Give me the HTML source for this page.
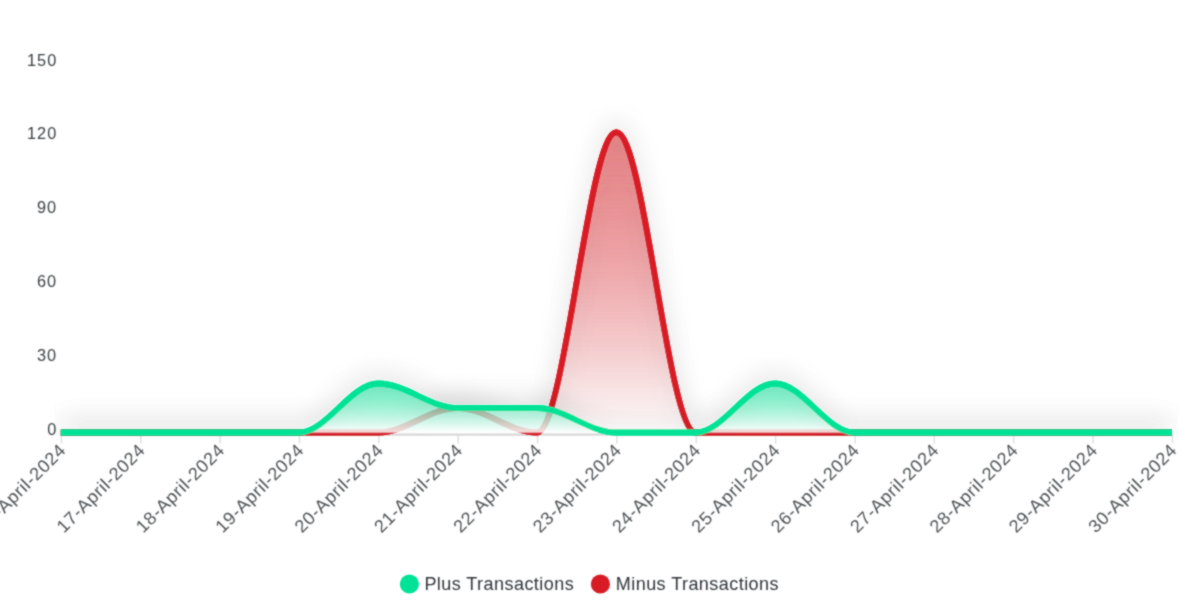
<!DOCTYPE html>
<html><head><meta charset="utf-8"><style>
html,body{margin:0;padding:0;background:#fff;}
body{width:1180px;height:600px;overflow:hidden;}
svg{display:block;}
.lab{font-family:"Liberation Sans",Arial,Helvetica,sans-serif;fill:#3a3f42;}
</style></head><body>
<svg width="1180" height="600" viewBox="0 0 1180 600">
<defs>
<linearGradient id="gG" x1="0" y1="0" x2="0" y2="1">
<stop offset="0" stop-color="#00E396" stop-opacity="0.31"/>
<stop offset="1.0" stop-color="#ffffff" stop-opacity="0.6"/>
<stop offset="1" stop-color="#ffffff" stop-opacity="0.6"/>
</linearGradient>
<linearGradient id="gR" x1="0" y1="0" x2="0" y2="1">
<stop offset="0" stop-color="#D81F26" stop-opacity="0.31"/>
<stop offset="1.0" stop-color="#ffffff" stop-opacity="0.6"/>
<stop offset="1" stop-color="#ffffff" stop-opacity="0.6"/>
</linearGradient>
<filter id="sh" filterUnits="userSpaceOnUse" x="0" y="0" width="1180" height="600">
<feFlood flood-color="#000" flood-opacity="0.14"/>
<feComposite in2="SourceAlpha" operator="in"/>
<feOffset dx="0" dy="-7"/>
<feGaussianBlur stdDeviation="12"/>
<feMerge result="m"><feMergeNode/><feMergeNode in="SourceGraphic"/></feMerge>
<feBlend in="SourceGraphic" in2="m" mode="normal"/>
</filter>
<filter id="sb" filterUnits="userSpaceOnUse" x="0" y="0" width="1180" height="600"><feConvolveMatrix order="3" kernelMatrix="1 2 1 2 12 2 1 2 1" preserveAlpha="false"/></filter>
<filter id="dd" filterUnits="userSpaceOnUse" x="0" y="0" width="1180" height="600"><feMerge><feMergeNode in="SourceGraphic"/><feMergeNode in="SourceGraphic"/></feMerge></filter>
<filter id="tb" x="-5%" y="-20%" width="110%" height="140%"><feConvolveMatrix order="3" kernelMatrix="1 2 1 2 8 2 1 2 1" preserveAlpha="false"/></filter>
<clipPath id="clip"><rect x="54.3" y="40" width="1123.7" height="396.0"/></clipPath>
</defs>
<g class="lab" font-size="16.3" letter-spacing="1.0" filter="url(#tb)">
<text x="57.2" y="65.89" text-anchor="end">150</text>
<text x="57.2" y="138.64" text-anchor="end">120</text>
<text x="57.2" y="212.79" text-anchor="end">90</text>
<text x="57.2" y="287.24" text-anchor="end">60</text>
<text x="57.2" y="361.44" text-anchor="end">30</text>
<text x="57.2" y="435.44" text-anchor="end">0</text>
</g>
<g filter="url(#sb)"><line x1="60.80" y1="434.4" x2="1171.84" y2="434.4" stroke="#e8e8e8" stroke-width="3.0"/>
<g stroke="#e0e0e0" stroke-width="1.5">
<line x1="61.40" y1="434" x2="61.40" y2="443.5"/>
<line x1="140.76" y1="434" x2="140.76" y2="443.5"/>
<line x1="220.12" y1="434" x2="220.12" y2="443.5"/>
<line x1="299.48" y1="434" x2="299.48" y2="443.5"/>
<line x1="378.84" y1="434" x2="378.84" y2="443.5"/>
<line x1="458.20" y1="434" x2="458.20" y2="443.5"/>
<line x1="537.56" y1="434" x2="537.56" y2="443.5"/>
<line x1="616.92" y1="434" x2="616.92" y2="443.5"/>
<line x1="696.28" y1="434" x2="696.28" y2="443.5"/>
<line x1="775.64" y1="434" x2="775.64" y2="443.5"/>
<line x1="855.00" y1="434" x2="855.00" y2="443.5"/>
<line x1="934.36" y1="434" x2="934.36" y2="443.5"/>
<line x1="1013.72" y1="434" x2="1013.72" y2="443.5"/>
<line x1="1093.08" y1="434" x2="1093.08" y2="443.5"/>
<line x1="1172.44" y1="434" x2="1172.44" y2="443.5"/>
</g></g>
<g class="lab" filter="url(#tb)" style="fill:#4d5255" font-size="18" letter-spacing="0.65">
<text x="67.00" y="451.30" text-anchor="end" transform="rotate(-45 67.00 451.30)">16-April-2024</text>
<text x="146.36" y="451.30" text-anchor="end" transform="rotate(-45 146.36 451.30)">17-April-2024</text>
<text x="225.72" y="451.30" text-anchor="end" transform="rotate(-45 225.72 451.30)">18-April-2024</text>
<text x="305.08" y="451.30" text-anchor="end" transform="rotate(-45 305.08 451.30)">19-April-2024</text>
<text x="384.44" y="451.30" text-anchor="end" transform="rotate(-45 384.44 451.30)">20-April-2024</text>
<text x="463.80" y="451.30" text-anchor="end" transform="rotate(-45 463.80 451.30)">21-April-2024</text>
<text x="543.16" y="451.30" text-anchor="end" transform="rotate(-45 543.16 451.30)">22-April-2024</text>
<text x="622.52" y="451.30" text-anchor="end" transform="rotate(-45 622.52 451.30)">23-April-2024</text>
<text x="701.88" y="451.30" text-anchor="end" transform="rotate(-45 701.88 451.30)">24-April-2024</text>
<text x="781.24" y="451.30" text-anchor="end" transform="rotate(-45 781.24 451.30)">25-April-2024</text>
<text x="860.60" y="451.30" text-anchor="end" transform="rotate(-45 860.60 451.30)">26-April-2024</text>
<text x="939.96" y="451.30" text-anchor="end" transform="rotate(-45 939.96 451.30)">27-April-2024</text>
<text x="1019.32" y="451.30" text-anchor="end" transform="rotate(-45 1019.32 451.30)">28-April-2024</text>
<text x="1098.68" y="451.30" text-anchor="end" transform="rotate(-45 1098.68 451.30)">29-April-2024</text>
<text x="1178.04" y="451.30" text-anchor="end" transform="rotate(-45 1178.04 451.30)">30-April-2024</text>
</g>
<g filter="url(#sb)"><g clip-path="url(#clip)">
<g>
<path d="M60.80,432.50 C88.58,432.50 112.38,432.50 140.16,432.50 C167.94,432.50 191.74,432.50 219.52,432.50 C247.30,432.50 271.10,432.50 298.88,432.50 C326.66,432.50 350.46,432.50 378.24,432.50 C406.02,432.50 429.82,408.00 457.60,408.00 C485.38,408.00 509.18,432.50 536.96,432.50 C564.74,432.50 588.54,132.30 616.32,132.30 C644.10,132.30 667.90,432.50 695.68,432.50 C723.46,432.50 747.26,432.50 775.04,432.50 C802.82,432.50 826.62,432.50 854.40,432.50 C882.18,432.50 905.98,432.50 933.76,432.50 C961.54,432.50 985.34,432.50 1013.12,432.50 C1040.90,432.50 1064.70,432.50 1092.48,432.50 C1120.26,432.50 1144.06,432.50 1171.84,432.50 L1171.84,432.50 L60.80,432.50 Z" fill="url(#gR)" filter="url(#sh)"/>
<path d="M60.80,432.50 C88.58,432.50 112.38,432.50 140.16,432.50 C167.94,432.50 191.74,432.50 219.52,432.50 C247.30,432.50 271.10,432.50 298.88,432.50 C326.66,432.50 350.46,432.50 378.24,432.50 C406.02,432.50 429.82,408.00 457.60,408.00 C485.38,408.00 509.18,432.50 536.96,432.50 C564.74,432.50 588.54,132.30 616.32,132.30 C644.10,132.30 667.90,432.50 695.68,432.50 C723.46,432.50 747.26,432.50 775.04,432.50 C802.82,432.50 826.62,432.50 854.40,432.50 C882.18,432.50 905.98,432.50 933.76,432.50 C961.54,432.50 985.34,432.50 1013.12,432.50 C1040.90,432.50 1064.70,432.50 1092.48,432.50 C1120.26,432.50 1144.06,432.50 1171.84,432.50" fill="none" stroke="#D81F26" stroke-width="5.9" filter="url(#sh)"/>
</g>
<g>
<path d="M60.80,432.50 C88.58,432.50 112.38,432.50 140.16,432.50 C167.94,432.50 191.74,432.50 219.52,432.50 C247.30,432.50 271.10,432.50 298.88,432.50 C326.66,432.50 350.46,383.50 378.24,383.50 C406.02,383.50 429.82,408.00 457.60,408.00 C485.38,408.00 509.18,408.00 536.96,408.00 C564.74,408.00 588.54,432.50 616.32,432.50 C644.10,432.50 667.90,432.50 695.68,432.50 C723.46,432.50 747.26,383.50 775.04,383.50 C802.82,383.50 826.62,432.50 854.40,432.50 C882.18,432.50 905.98,432.50 933.76,432.50 C961.54,432.50 985.34,432.50 1013.12,432.50 C1040.90,432.50 1064.70,432.50 1092.48,432.50 C1120.26,432.50 1144.06,432.50 1171.84,432.50 L1171.84,432.50 L60.80,432.50 Z" fill="url(#gG)" filter="url(#sh)"/>
<path d="M60.80,432.50 C88.58,432.50 112.38,432.50 140.16,432.50 C167.94,432.50 191.74,432.50 219.52,432.50 C247.30,432.50 271.10,432.50 298.88,432.50 C326.66,432.50 350.46,383.50 378.24,383.50 C406.02,383.50 429.82,408.00 457.60,408.00 C485.38,408.00 509.18,408.00 536.96,408.00 C564.74,408.00 588.54,432.50 616.32,432.50 C644.10,432.50 667.90,432.50 695.68,432.50 C723.46,432.50 747.26,383.50 775.04,383.50 C802.82,383.50 826.62,432.50 854.40,432.50 C882.18,432.50 905.98,432.50 933.76,432.50 C961.54,432.50 985.34,432.50 1013.12,432.50 C1040.90,432.50 1064.70,432.50 1092.48,432.50 C1120.26,432.50 1144.06,432.50 1171.84,432.50" fill="none" stroke="#00E396" stroke-width="5.8" filter="url(#sh)"/>
</g>
</g></g>
<g filter="url(#sb)"><circle cx="409.4" cy="584" r="9.6" fill="#00E396"/>
<circle cx="600.4" cy="584" r="9.6" fill="#D81F26"/></g>
<g class="lab" filter="url(#tb)" style="fill:#30353a" font-size="18" letter-spacing="0.45">
<text x="424.4" y="589.8">Plus Transactions</text>
<text x="615.8" y="589.8">Minus Transactions</text>
</g>
</svg>
</body></html>
